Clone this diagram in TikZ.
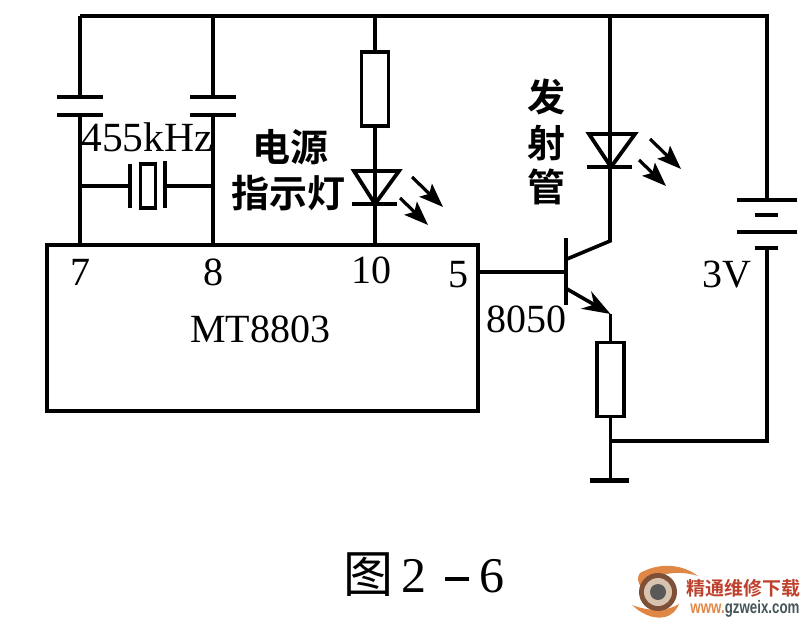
\documentclass[tikz,border=0pt]{standalone}
\usepackage{fontspec}
\setmainfont{Liberation Serif}
\newfontfamily\cjk{Noto Sans CJK SC}[BoldFont={* Bold}]
\newfontfamily\logofont{Liberation Sans}
\usetikzlibrary{arrows.meta}
\definecolor{logoorange}{RGB}{225,135,70}
\definecolor{logored}{RGB}{190,65,45}
\definecolor{logogrey}{RGB}{70,85,90}
\definecolor{logobrown}{RGB}{125,80,55}
\definecolor{logoring}{RGB}{215,195,175}
\tikzset{
    wire/.style={line width=3.6pt},
    plate/.style={line width=4.4pt},
    thinplate/.style={line width=3.4pt},
    resbox/.style={draw,line width=3.6pt,minimum width=27pt,minimum height=74pt,outer sep=0pt,fill=white},
    ledbody/.style={draw,line width=3.8pt,line join=miter},
    ray/.style={line width=3.2pt,-{Stealth[length=24pt,width=18pt,inset=5pt]}},
    lbl/.style={font=\fontsize{40}{40}\selectfont,inner sep=0pt},
    cnlbl/.style={font=\cjk\bfseries\fontsize{38}{38}\selectfont,inner sep=0pt}
}
\begin{document}
\begin{tikzpicture}[x=1pt,y=-1pt]
    \useasboundingbox (0,0) rectangle (809,624);
    % rail corners and junctions
    \coordinate (tl) at (80,16);
    \coordinate (tm) at (213,16);
    \coordinate (tr) at (375,16);
    \coordinate (tq) at (610,16);
    \coordinate (tb) at (767,16);
    \coordinate (c1a) at (80,97);
    \coordinate (c1b) at (80,115);
    \coordinate (c2a) at (213,97);
    \coordinate (c2b) at (213,115);
    \coordinate (p7) at (80,245);
    \coordinate (p8) at (213,245);
    \coordinate (p10) at (375,245);
    \coordinate (p5) at (478,272);
    % chip and resistors
    \node[draw,line width=3.6pt,minimum width=431pt,minimum height=166pt,outer sep=0pt] (ic) at (262.5,328) {};
    \node[resbox] (r1) at (375,89) {};
    \node[resbox] (r2) at (610.5,379.5) {};
    % capacitors
    \draw[wire] (tl) -- (tb) -- (767,200);
    \draw[wire] (tl) -- (c1a);
    \draw[wire] (tm) -- (c2a);
    \draw[wire] (c1b) -- (p7);
    \draw[wire] (c2b) -- (p8);
    \foreach \cx in {80,213}
        \foreach \cy in {97,115}
            \draw[plate] (\cx-23,\cy) -- (\cx+23,\cy);
    % crystal
    \node[draw,line width=3.4pt,minimum width=15pt,minimum height=44pt,outer sep=0pt] (xt) at (148,186) {};
    \coordinate (xl) at (130,186);
    \coordinate (xr) at (165,186);
    \draw[thinplate] (130,164) -- (130,208);
    \draw[plate] (165,161) -- (165,208);
    \draw[wire] (80,186) -- (xl);
    \draw[wire] (xr) -- (213,186);
    % power led
    \draw[wire] (tr) -- (r1.north);
    \draw[wire] (r1.south) -- (p10);
    \draw[ledbody] (354,171) -- (399,171) -- (375,204) -- cycle;
    \draw[plate] (352,204) -- (397,204);
    \draw[ray] (412,177) -- (443,207);
    \draw[ray] (400,198) -- (428,225);
    % transistor with emitter led
    \coordinate (col) at (610,241);
    \coordinate (emi) at (610.5,314);
    \draw[wire] (tq) -- (col) -- (567,259);
    \draw[ledbody] (589,134) -- (635,134) -- (611,167) -- cycle;
    \draw[plate] (587,167) -- (632,167);
    \draw[ray] (650,139) -- (681,169);
    \draw[ray] (639,160) -- (666,186);
    \draw[plate] (566,238) -- (566,305);
    \draw[wire] (p5) -- (566,272);
    \draw[line width=3.6pt,-{Stealth[length=28pt,width=20pt]}] (567,289) -- (emi);
    \draw[wire] (emi) -- (r2.north);
    \draw[wire] (r2.south) -- (610.5,480);
    \draw[line width=5pt] (590,480) -- (629,480);
    % battery
    \draw[plate] (737,200) -- (797,200);
    \draw[plate] (755,215) -- (778,215);
    \draw[plate] (737,232) -- (797,232);
    \draw[plate] (755,248) -- (778,248);
    \draw[wire] (767,248) -- (767,441) -- (610.5,441);
    % labels
    \node[lbl,font=\fontsize{41.5}{41.5}\selectfont] (freq) at (147,137) {455kHz};
    \node[lbl] (n7) at (80,272) {7};
    \node[lbl] (n8) at (213,272) {8};
    \node[lbl] (n10) at (371,270) {10};
    \node[lbl] (n5) at (458,275) {5};
    \node[lbl] (chip) at (260,329) {MT8803};
    \node[lbl] (tr8050) at (526,319) {8050};
    \node[lbl] (volt) at (727,275) {3V};
    \node[cnlbl] (pw1) at (290,147) {电源};
    \node[cnlbl] (pw2) at (288,193) {指示灯};
    \node[cnlbl] (tx1) at (546,97) {发};
    \node[cnlbl] (tx2) at (546,143) {射};
    \node[cnlbl] (tx3) at (546,187) {管};
    \node[inner sep=0pt,font=\fontsize{50}{50}\selectfont] (cap) at (423.5,575) {{\cjk 图}\hspace{8pt}2\hspace{19pt}\rule[12pt]{24pt}{3.5pt}\hspace{10pt}6};
    % logo
    \fill[logoorange] (640,573) .. controls (660,562) and (682,564) .. (698,576) .. controls (680,570) and (655,572) .. (642,588) .. controls (637,582) and (637,577) .. (640,573) -- cycle;
    \fill[logoorange] (632,605) .. controls (650,612) and (668,611) .. (679,604) .. controls (672,622) and (650,622) .. (632,605) -- cycle;
    \fill[logobrown] (658,592) circle (19pt);
    \fill[logoring] (658,592) circle (14pt);
    \fill[black!65] (658,592) circle (8pt);
    \node[inner sep=0pt,text=logored,font=\cjk\bfseries\fontsize{19}{19}\selectfont] (logo1) at (743.5,588) {精通维修下载};
    \node[inner sep=0pt,font=\logofont\bfseries\fontsize{18}{18}\selectfont] (logo2) at (745,609) {\scalebox{.74}[1]{\textcolor{logoorange}{www.}\textcolor{logogrey}{gzweix.com}}};
\end{tikzpicture}
\end{document}
